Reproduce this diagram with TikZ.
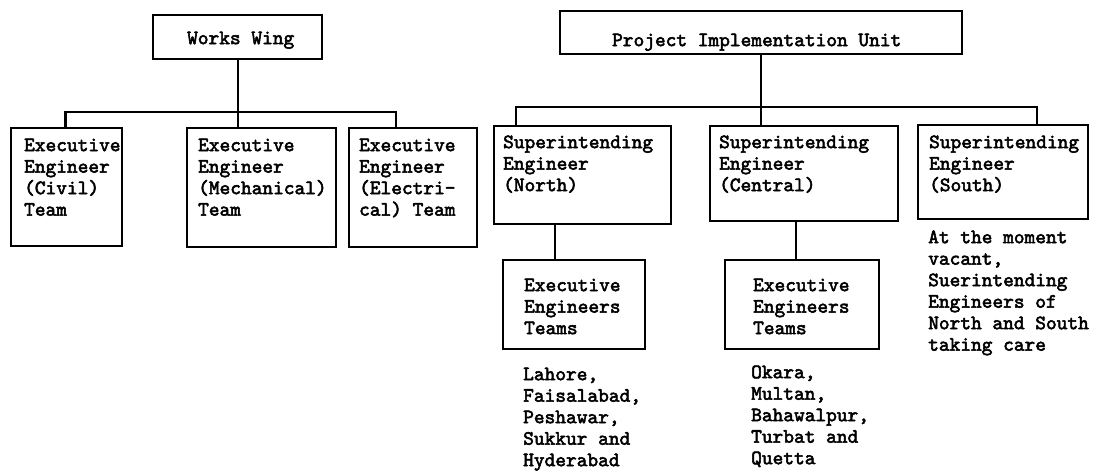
\documentclass[tikz,border=0pt]{standalone}
\usepackage{fontspec}
\newfontfamily\tw{lmmono10-regular.otf}[FakeBold=2.6]
\newcommand{\bt}[5]{\hspace*{#3pt}\parbox[t][#2pt][t]{\dimexpr#1pt-#3pt\relax}{\vspace*{\dimexpr#4pt-15.05pt\relax}\raggedright\strut #5}}
\newcommand{\lt}[1]{\parbox[t]{200pt}{\raggedright\strut #1}}
\tikzset{
  txtfont/.style={font={\tw\fontsize{20.4}{21.5}\selectfont}},
  box/.style={draw, line width=2.3pt, anchor=north west, inner sep=0pt, txtfont},
  lbl/.style={anchor=north west, inner sep=0pt, txtfont},
  conn/.style={line width=2.3pt},
}
\begin{document}
\begin{tikzpicture}[x=1pt,y=-1pt]
\useasboundingbox (0,0) rectangle (1098,471);
% top boxes
\node[box] (works) at (152,14) {\bt{169}{44}{34}{29}{Works Wing}};
\node[box] (piu) at (559,10) {\bt{402}{43}{52}{35}{Project Implementation Unit}};
% works wing teams
\node[box] (civil) at (10,127) {\bt{111}{118}{13}{23}{Executive\\Engineer\\(Civil)\\Team}};
\node[box] (mech) at (186,127) {\bt{149}{119}{11}{23}{Executive\\Engineer\\(Mechanical)\\Team}};
\node[box] (elec) at (348,127) {\bt{128}{119}{10}{23}{Executive\\Engineer\\(Electri-\\cal) Team}};
% PIU superintending engineers
\node[box] (north) at (493,125) {\bt{177}{98}{9}{22}{Superintending\\Engineer\\(North)}};
\node[box] (central) at (709,125) {\bt{188}{95}{9}{22}{Superintending\\Engineer\\(Central)}};
\node[box] (south) at (917,124) {\bt{170}{94}{11}{23}{Superintending\\Engineer\\(South)}};
% executive engineers teams
\node[box] (eeN) at (502,259) {\bt{142}{89}{21}{31}{Executive\\Engineers\\Teams}};
\node[box] (eeC) at (724,259) {\bt{154}{89}{28}{31}{Executive\\Engineers\\Teams}};
% free texts
\node[lbl] (listN) at (523,364.95) {\lt{Lahore,\\Faisalabad,\\Peshawar,\\Sukkur and\\Hyderabad}};
\node[lbl] (listC) at (751,362.95) {\lt{Okara,\\Multan,\\Bahawalpur,\\Turbat and\\Quetta}};
\node[lbl] (note) at (928,227.95) {\lt{At the moment\\vacant,\\Suerintending\\Engineers of\\North and South\\taking care}};
% connector coordinates
\coordinate (lbarL) at (65.5,112);
\coordinate (lbarR) at (396,112);
\coordinate (rbarL) at (516,107);
\coordinate (rbarR) at (1037,107);
\coordinate (ndrop) at (555,0);
\coordinate (cdrop) at (796,0);
% connectors
\draw[conn] (works.south) -- (works.south |- mech.north);
\draw[conn] (lbarL |- civil.north) -- (lbarL) -- (lbarR) -- (lbarR |- elec.north);
\draw[conn] (piu.south) -- (piu.south |- central.north);
\draw[conn] (rbarL |- north.north) -- (rbarL) -- (rbarR) -- (rbarR |- south.north);
\draw[conn] (ndrop |- north.south) -- (ndrop |- eeN.north);
\draw[conn] (cdrop |- central.south) -- (cdrop |- eeC.north);
\end{tikzpicture}
\end{document}
